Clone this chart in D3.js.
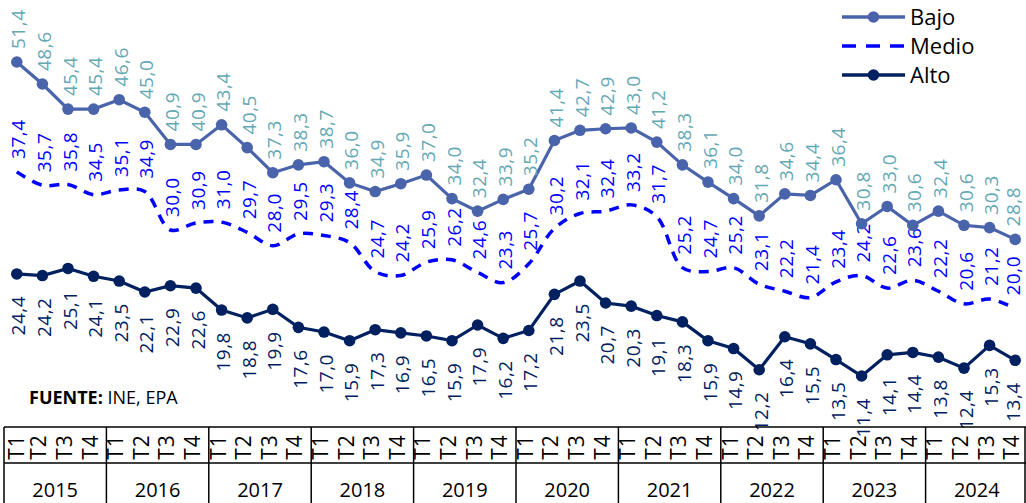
<!DOCTYPE html>
<html><head><meta charset="utf-8">
<script src="https://cdn.jsdelivr.net/npm/d3@7"></script>
<style>body{margin:0;background:#fff}svg{display:block}text{font-family:"Open Sans",sans-serif}</style>
</head><body>
<svg id="c" width="1026" height="503"></svg>
<script>
const years = ["2015","2016","2017","2018","2019","2020","2021","2022","2023","2024"];
const quarterNames = ["T1","T2","T3","T4"];
const bajo = [51.4,48.6,45.4,45.4,46.6,45.0,40.9,40.9,43.4,40.5,37.3,38.3,38.7,36.0,34.9,35.9,37.0,34.0,32.4,33.9,35.2,41.4,42.7,42.9,43.0,41.2,38.3,36.1,34.0,31.8,34.6,34.4,36.4,30.8,33.0,30.6,32.4,30.6,30.3,28.8];
const medio = [37.4,35.7,35.8,34.5,35.1,34.9,30.0,30.9,31.0,29.7,28.0,29.5,29.3,28.4,24.7,24.2,25.9,26.2,24.6,23.3,25.7,30.2,32.1,32.4,33.2,31.7,25.2,24.7,25.2,23.1,22.2,21.4,23.4,24.2,22.6,23.6,22.2,20.6,21.2,20.0];
const alto = [24.4,24.2,25.1,24.1,23.5,22.1,22.9,22.6,19.8,18.8,19.9,17.6,17.0,15.9,17.3,16.9,16.5,15.9,17.9,16.2,17.2,21.8,23.5,20.7,20.3,19.1,18.3,15.9,14.9,12.2,16.4,15.5,13.5,11.4,14.1,14.4,13.8,12.4,15.3,13.4];
const seriesNames = ["Bajo","Medio","Alto"];

const quarters = [];
years.forEach(y => quarterNames.forEach(q => quarters.push(y + "-" + q)));

const W = 1026;
const svg = d3.select("#c");
const x = d3.scaleBand().domain(quarters).range([4, 1028]).padding(0);
const cx = i => x(quarters[i]) + x.bandwidth() / 2;
const y = d3.scaleLinear().domain([0, 60]).range([465.5, -5.5]);
const fmt = v => d3.format(".1f")(v).replace(".", ",");
const lx = i => Math.min(cx(i) + 8.5, W - 6);

const styles = {
  Bajo: {data: bajo, line: "#4A64AC", label: "#64A8B4", dash: null, marker: true, above: true, curve: d3.curveLinear},
  Medio: {data: medio, line: "#0000FF", label: "#0000FF", dash: "10,8", marker: false, above: true, curve: d3.curveCatmullRom.alpha(0.5)},
  Alto: {data: alto, line: "#002060", label: "#002060", dash: null, marker: true, above: false, curve: d3.curveLinear}
};

["Medio","Alto","Bajo"].forEach(name => {
  const s = styles[name];
  const line = d3.line().x((d,i) => cx(i)).y(d => y(d)).curve(s.curve);
  svg.append("path").attr("d", line(s.data)).attr("fill","none")
    .attr("stroke", s.line).attr("stroke-width", name === "Medio" ? 3.5 : 3.2)
    .attr("stroke-dasharray", s.dash);
  if (s.marker) {
    svg.append("g").selectAll("circle").data(s.data).join("circle")
      .attr("cx",(d,i)=>cx(i)).attr("cy",d=>y(d)).attr("r",5.8).attr("fill",s.line);
  }
  svg.append("g").selectAll("text").data(s.data).join("text")
    .attr("transform",(d,i)=> s.above
        ? `translate(${lx(i)},${y(d)-13}) rotate(-90)`
        : `translate(${lx(i)},${y(d)+22}) rotate(-90)`)
    .attr("text-anchor", s.above ? "start" : "end")
    .attr("font-size", 19).attr("letter-spacing", 0.5).attr("fill", s.label).text(d=>fmt(d));
});

// legend
const lg = svg.append("g");
seriesNames.forEach((name, k) => {
  const s = styles[name];
  const ly = 17 + k * 29;
  lg.append("line").attr("x1",842).attr("x2",905).attr("y1",ly).attr("y2",ly)
    .attr("stroke",s.line).attr("stroke-width",3.5).attr("stroke-dasharray", s.dash ? "14,10" : null);
  if (s.marker) lg.append("circle").attr("cx",873.5).attr("cy",ly).attr("r",5.8).attr("fill",s.line);
  lg.append("text").attr("x",910).attr("y",ly+8).attr("font-size",22).attr("fill","#000").text(name);
});

// source
const src = svg.append("text").attr("x",29).attr("y",404).attr("font-size",18).attr("fill","#000");
src.append("tspan").attr("font-weight","bold").text("FUENTE:");
src.append("tspan").text(" INE, EPA");

// category table
const tbl = svg.append("g");
tbl.append("line").attr("x1",4).attr("x2",1026).attr("y1",427).attr("y2",427).attr("stroke","#000").attr("stroke-width",1.5);
tbl.append("line").attr("x1",4).attr("x2",1026).attr("y1",463).attr("y2",463).attr("stroke","#000").attr("stroke-width",1.5);
years.forEach((yr, k) => {
  const x0 = x(yr + "-T1");
  tbl.append("line").attr("x1",x0).attr("x2",x0).attr("y1",427).attr("y2",503).attr("stroke","#000").attr("stroke-width",1.5);
  const x1 = x(yr + "-T4") + x.bandwidth();
  tbl.append("text").attr("x",(x0+x1)/2).attr("y",497).attr("text-anchor","middle")
    .attr("font-size",20).attr("fill","#000").text(yr);
});
tbl.append("line").attr("x1",1025).attr("x2",1025).attr("y1",427).attr("y2",503).attr("stroke","#000").attr("stroke-width",1.5);
tbl.append("g").selectAll("text").data(quarters).join("text")
  .attr("transform",(d,i)=>`translate(${Math.max(24, Math.min(cx(i)+4, W-7))},447) rotate(-90)`)
  .attr("text-anchor","middle").attr("font-size",21).attr("letter-spacing",1).attr("fill","#000")
  .text(d=>d.split("-")[1]);
</script>
</body></html>
